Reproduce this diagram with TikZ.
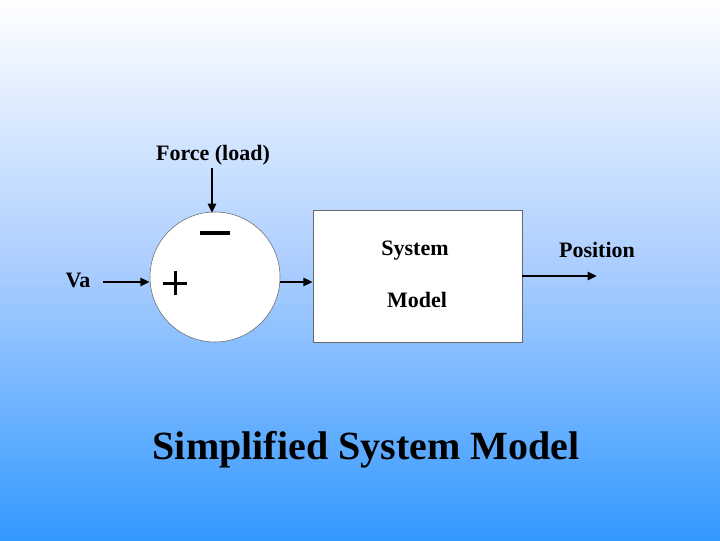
\documentclass[tikz,border=0pt]{standalone}
\usepackage{fontspec}
\setmainfont{Liberation Serif}
\usetikzlibrary{arrows.meta}
\begin{document}
\begin{tikzpicture}[x=0.75pt,y=-0.75pt,
  lbl/.style={font=\bfseries\fontsize{16.5}{20}\selectfont},
  conn/.style={draw=black,line width=1.8pt,-{Triangle[length=7pt,width=6pt]}}]
\shade[top color=white,bottom color={rgb,255:red,51;green,153;blue,255},middle color={rgb,255:red,170;green,205;blue,255}] (0,0) rectangle (720,540);
\node[circle,draw=black!60,fill=white,minimum size=130*0.75pt,inner sep=0pt] (sum) at (215,277) {};
\node[draw=black!60,fill=white,minimum width=209*0.75pt,minimum height=132*0.75pt,inner sep=0pt] (sys) at (417.5,276) {};
\node[lbl] (va) at (78,280) {Va};
\node[lbl] (force) at (213,155) {Force (load)};
\node[lbl] at (415,251) {System};
\node[lbl] at (417,300) {Model};
\node[lbl] (pos) at (597,250) {Position};
\fill[black] (200,231) rectangle (230,234.5);
\fill[black] (163,281.5) rectangle (187,284.5);
\fill[black] (173.5,271) rectangle (176.5,295);
\node[font=\bfseries\fontsize{30}{32}\selectfont] at (366,450) {Simplified System Model};
\coordinate (vaE) at (103,282);
\coordinate (fT) at (212,168);
\coordinate (pE) at (597,276);
\draw[conn] (vaE) -- (sum.west |- vaE);
\draw[conn] (fT) -- (212,213);
\draw[conn] (sum.east |- 0,282) -- (sys.west |- 0,282);
\draw[conn] (sys.east |- pE) -- (pE);
\end{tikzpicture}
\end{document}
